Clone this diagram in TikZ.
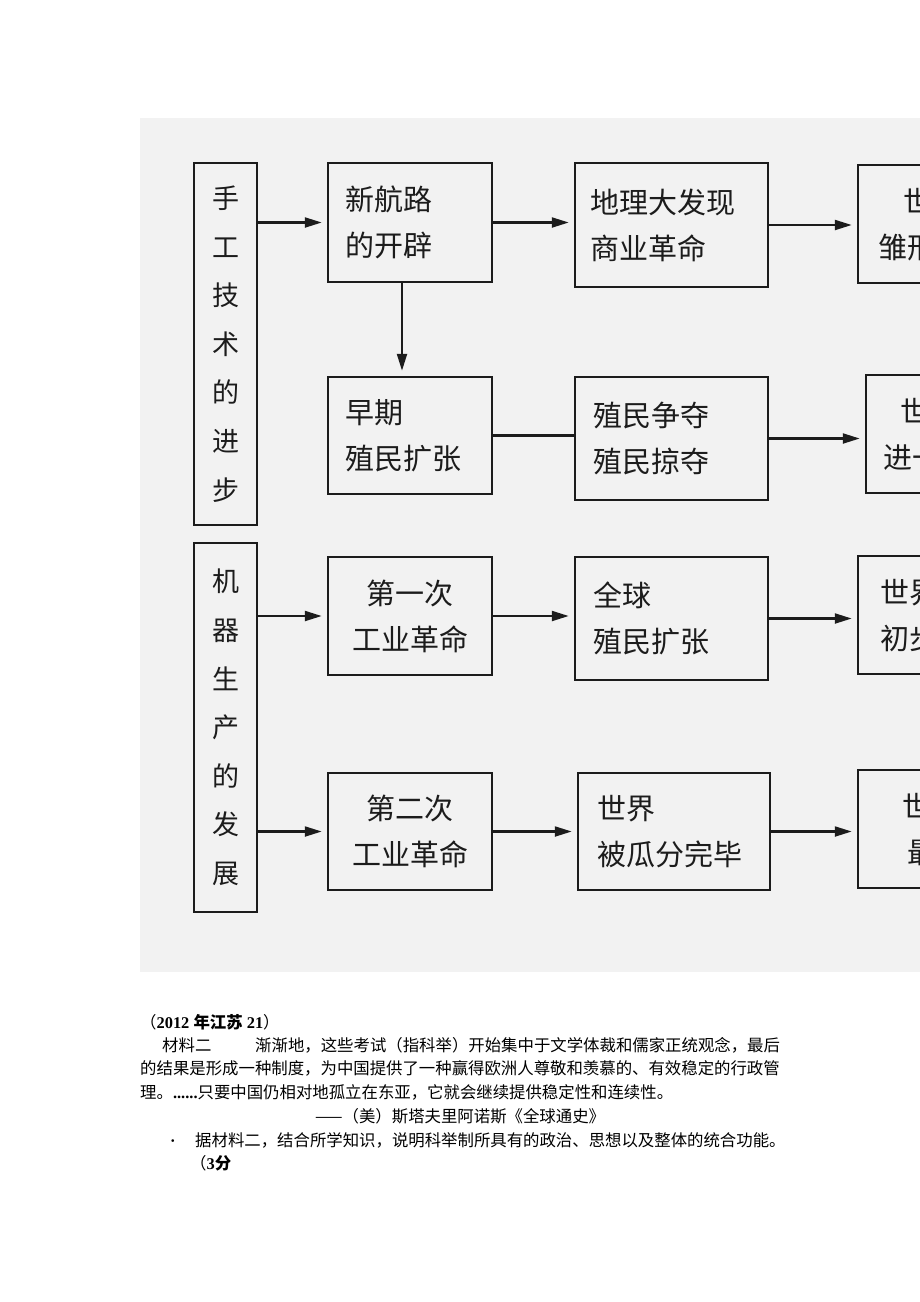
\documentclass[tikz,border=0pt]{standalone}
\usepackage{fontspec}
\setmainfont{Liberation Serif}
\newfontfamily\cjk{Noto Sans CJK SC}
\usetikzlibrary{arrows.meta}
\definecolor{bgc}{RGB}{242,242,242}
\definecolor{ink}{RGB}{28,28,28}
\begin{document}
\begin{tikzpicture}[x=1pt,y=-1pt,
  box/.style={draw=ink, line width=2.5pt, fill=bgc, inner ysep=0pt, align=left,
    text=ink, font=\cjk\fontsize{29}{46}\selectfont},
  vbox/.style={draw=ink, line width=2.5pt, fill=bgc, inner sep=0pt, align=center,
    minimum width=63pt, text=ink, font=\cjk\fontsize{27}{48.6}\selectfont},
  arr/.style={draw=ink, line width=2.2pt, -{Triangle[length=17pt,width=10pt]}, shorten >=5pt},
  ln/.style={draw=ink, line width=2.2pt},
  para/.style={anchor=base west, inner sep=0pt, text=black, font=\cjk\fontsize{16.4}{20}\selectfont}]
\useasboundingbox (0,0) rectangle (920,1302);
\clip (0,0) rectangle (920,1302);
\fill[white] (0,0) rectangle (920,1302);
\fill[bgc] (140,118) rectangle (920,972);

% left vertical boxes
\node[vbox, minimum height=362pt] (lb1) at (225.5,344) {手\\工\\技\\术\\的\\进\\步};
\node[vbox, minimum height=369pt] (lb2) at (225.5,727.5) {机\\器\\生\\产\\的\\发\\展};

% row 1
\node[box, minimum height=119pt, inner xsep=17pt, text width=130pt] (n1) at (410,222.5) {新航路\\的开辟};
\node[box, minimum height=124pt, inner xsep=15pt, text width=163pt] (n2) at (671.5,225) {地理大发现\\商业革命};
\node[box, minimum height=118pt, inner xsep=20pt, text width=150pt] (n3) at (953,224) {\hspace*{25pt}世界市场\\雏形出现};
% row 2
\node[box, minimum height=117pt, inner xsep=17pt, text width=130pt] (n4) at (410,435.5) {早期\\殖民扩张};
\node[box, minimum height=123pt, inner xsep=18pt, text width=157pt] (n5) at (671.5,438.5) {殖民争夺\\殖民掠夺};
\node[box, minimum height=118pt, inner xsep=17pt, text width=156pt] (n6) at (961,434) {\hspace*{17pt}世界市场\\进一步扩大};
% row 3
\node[box, align=center, minimum height=118pt, inner xsep=17pt, text width=130pt] (n7) at (410,616) {第一次\\工业革命};
\node[box, minimum height=123pt, inner xsep=18pt, text width=157pt] (n8) at (671.5,618.5) {全球\\殖民扩张};
\node[box, minimum height=118pt, inner xsep=22pt, text width=146pt] (n9) at (953,615) {世界市场\\初步形成};
% row 4
\node[box, align=center, minimum height=117pt, inner xsep=17pt, text width=130pt] (n10) at (410,831.5) {第二次\\工业革命};
\node[box, minimum height=117pt, inner xsep=19pt, text width=154pt] (n11) at (674,831.5) {世界\\被瓜分完毕};
\node[box, minimum height=118pt, inner xsep=44pt, text width=102pt] (n12) at (953,829) {世界市场\\\hspace*{5pt}最终形成};

% connectors
\draw[arr] (lb1.east |- n1.west) -- (n1.west);
\draw[arr] (n1.east) -- (n2.west |- n1.east);
\draw[arr] (n2.east) -- (n3.west |- n2.east);
\draw[arr] ([xshift=-8pt]n1.south) -- ([xshift=-8pt]n4.north);
\draw[ln] (n4.east) -- (n5.west |- n4.east);
\draw[arr] (n5.east) -- (n6.west |- n5.east);
\draw[arr] (lb2.east |- n7.west) -- (n7.west);
\draw[arr] (n7.east) -- (n8.west |- n7.east);
\draw[arr] (n8.east) -- (n9.west |- n8.east);
\draw[arr] (lb2.east |- n10.west) -- (n10.west);
\draw[arr] (n10.east) -- (n11.west |- n10.east);
\draw[arr] (n11.east) -- (n12.west |- n11.east);

% text below
\node[para] (t1) at (140,1028) {（{\fontspec{Liberation Serif}\bfseries 2012\ }\textbf{年江苏}{\fontspec{Liberation Serif}\bfseries\ 21}）};
\node[para] (t2a) at (162,1051) {材料二};
\node[para] (t2b) at (255,1051) {渐渐地，这些考试（指科举）开始集中于文学体裁和儒家正统观念，最后};
\node[para] (t3) at (140,1074) {的结果是形成一种制度，为中国提供了一种赢得欧洲人尊敬和羡慕的、有效稳定的行政管};
\node[para] (t4) at (140,1098) {理。{\fontspec{Liberation Serif}\bfseries ......}只要中国仍相对地孤立在东亚，它就会继续提供稳定性和连续性。};
\node[para] (t5) at (315,1122) {——（美）斯塔夫里阿诺斯《全球通史》};
\node[para] (t6a) at (170,1146) {{\fontspec{Liberation Serif}\bfseries ·}};
\node[para] (t6b) at (195,1146) {据材料二，结合所学知识，说明科举制所具有的政治、思想以及整体的统合功能。};
\node[para] (t7) at (190,1169) {（{\fontspec{Liberation Serif}\bfseries 3}\textbf{分}};
\end{tikzpicture}
\end{document}
